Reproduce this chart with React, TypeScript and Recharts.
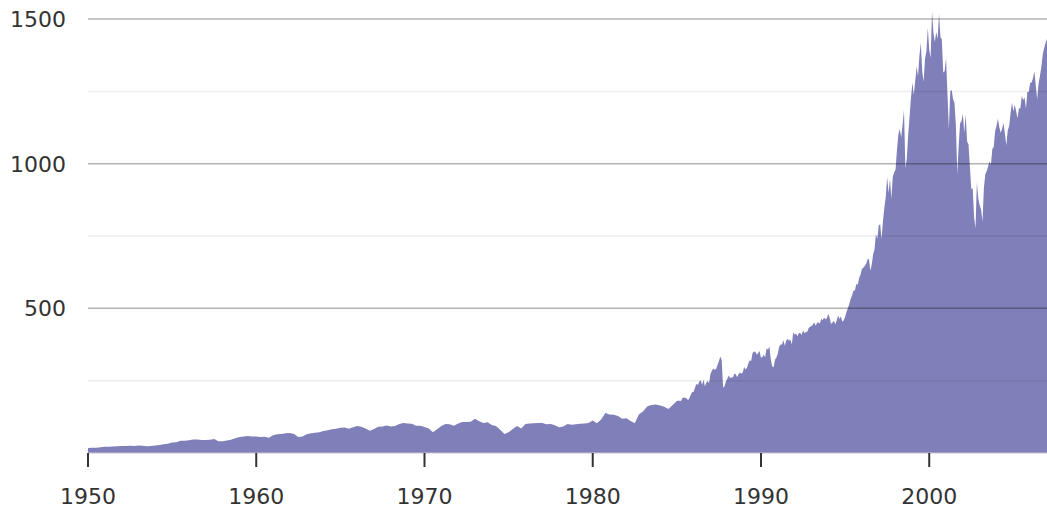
import React from 'react';
import {
  AreaChart,
  Area,
  XAxis,
  YAxis,
  ReferenceLine,
} from 'recharts';

// S&P 500 index level, quarterly 1950-1984
const quarterlyStart = 1950;
const quarterlyValues = [
  17, 18.5, 17.8, 19.8,
  21.5, 22, 22.5, 23.5,
  24, 24, 25, 24.5,
  26, 25, 23.5, 24,
  26, 28, 30, 32,
  36, 37, 42, 42,
  44, 47, 47, 45,
  45, 46, 48, 41,
  41, 43, 46, 51,
  55, 57, 59, 57,
  57, 55, 56, 53,
  61, 65, 66, 68,
  69, 66, 55, 57,
  65, 68, 70, 72,
  76, 79, 82, 84,
  87, 88, 84, 89,
  93, 91, 85, 77,
  83, 91, 92, 95,
  92, 93, 100, 104,
  102, 101, 94, 94,
  90, 85, 72, 82,
  93, 100, 99, 94,
  102, 107, 107, 108,
  118, 110, 104, 106,
  97, 93, 80, 66,
  72, 83, 93, 85,
  100, 102, 103, 104,
  104, 99, 100, 96,
  89, 92, 100, 98,
  99, 101, 102, 104,
  112, 103, 116, 138,
  133, 132, 128, 118,
  120, 111, 103, 134,
  144, 162, 166, 168,
  164, 160, 152, 166,
];

// monthly 1985-2006, then Jan 2007
const monthlyStart = 1985;
const monthlyValues = [
  180, 181, 181, 180, 190, 192, 191, 188, 182, 190, 202, 211,
  212, 227, 239, 235, 247, 251, 236, 253, 231, 243, 249, 242,
  274, 284, 292, 288, 290, 304, 318, 334, 321, 226, 230, 247,
  257, 268, 259, 261, 262, 274, 272, 262, 272, 278, 274, 278,
  297, 289, 295, 310, 321, 318, 346, 351, 349, 340, 346, 353,
  329, 332, 340, 331, 361, 358, 368, 323, 300, 296, 322, 330,
  344, 367, 375, 375, 390, 371, 388, 395, 388, 392, 375, 417,
  409, 413, 404, 415, 415, 408, 424, 414, 418, 419, 431, 436,
  439, 443, 452, 440, 450, 451, 448, 464, 459, 468, 462, 466,
  481, 467, 446, 451, 457, 444, 458, 475, 463, 472, 454, 459,
  470, 487, 501, 515, 533, 545, 562, 562, 584, 582, 605, 616,
  636, 640, 646, 654, 669, 671, 630, 652, 687, 705, 757, 741,
  786, 791, 740, 801, 848, 885, 954, 899, 947, 880, 955, 970,
  980, 1049, 1102, 1120, 1091, 1134, 1186, 985, 1017, 1099, 1164, 1229,
  1280, 1238, 1286, 1335, 1302, 1373, 1418, 1320, 1283, 1363, 1389, 1469,
  1394, 1366, 1527, 1452, 1421, 1455, 1431, 1518, 1437, 1429, 1315, 1320,
  1366, 1240, 1120, 1249, 1256, 1224, 1211, 1134, 965, 1060, 1139, 1148,
  1172, 1107, 1170, 1077, 1067, 990, 912, 916, 815, 777, 936, 880,
  856, 841, 800, 917, 964, 975, 990, 1008, 996, 1051, 1058, 1112,
  1131, 1155, 1126, 1107, 1121, 1141, 1102, 1064, 1115, 1130, 1174, 1212,
  1181, 1204, 1181, 1157, 1192, 1191, 1234, 1220, 1229, 1190, 1249, 1248,
  1280, 1281, 1295, 1320, 1270, 1223, 1277, 1304, 1336, 1378, 1401, 1418,
  1430,
];

const xTicks = [1950, 1960, 1970, 1980, 1990, 2000];
const yTicks = [500, 1000, 1500];
const minorLines = [250, 750, 1250];

const data = [
  ...quarterlyValues.map((v, i) => ({ year: quarterlyStart + i / 4, value: v })),
  ...monthlyValues.map((v, i) => ({ year: monthlyStart + i / 12, value: v })),
];

const fontFamily = '"DejaVu Sans", Verdana, sans-serif';

const App: React.FC = () => {
  return (
    <div style={{ position: 'absolute', left: 0, top: 0, width: 1047, height: 512, background: '#fff' }}>
      <AreaChart
        width={1047}
        height={512}
        data={data}
        margin={{ top: 2, right: 0, left: 0, bottom: 0 }}
      >
        <XAxis
          dataKey="year"
          type="number"
          domain={[1950, 2007]}
          ticks={xTicks}
          height={59}
          axisLine={{ stroke: '#c8c8c8', strokeWidth: 1 }}
          tickLine={{ stroke: '#333', strokeWidth: 2 }}
          tickSize={14}
          tickMargin={21}
          tick={{ fontSize: 22, fill: '#333', fontFamily }}
        />
        <YAxis
          type="number"
          domain={[0, 1559]}
          ticks={yTicks}
          width={88}
          axisLine={false}
          tickLine={false}
          tickSize={0}
          tickMargin={22}
          tick={{ fontSize: 22, fill: '#333', fontFamily }}
        />
        <Area
          type="linear"
          dataKey="value"
          stroke="none"
          fill="#7f7fb9"
          fillOpacity={1}
          isAnimationActive={false}
        />
        {minorLines.map((v) => (
          <ReferenceLine key={`m${v}`} y={v} stroke="rgba(0,0,0,0.07)" strokeWidth={1.5} />
        ))}
        {yTicks.map((v) => (
          <ReferenceLine key={`g${v}`} y={v} stroke="rgba(0,0,0,0.3)" strokeWidth={1.5} />
        ))}
      </AreaChart>
    </div>
  );
};

export default App;
